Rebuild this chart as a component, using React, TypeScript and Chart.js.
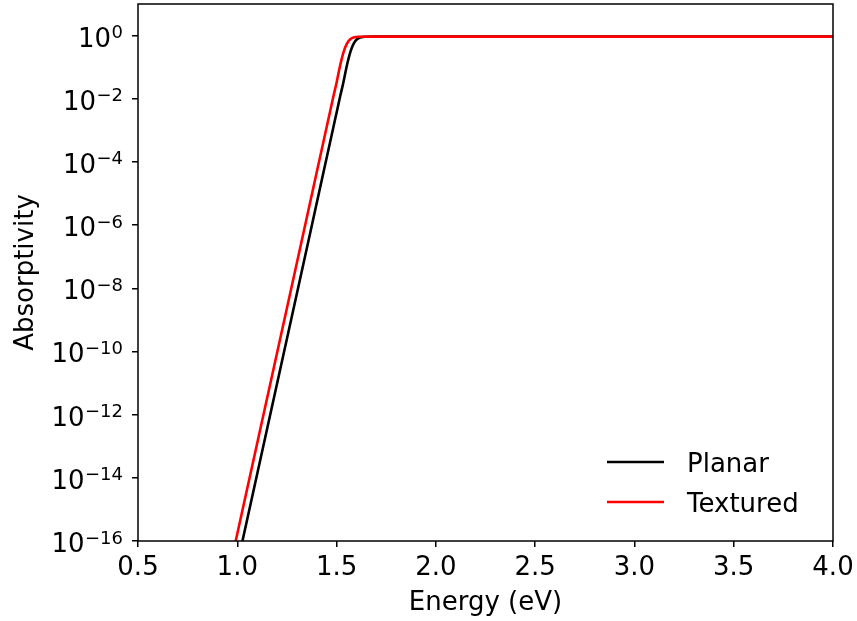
import { useEffect, useRef } from "react";
import { Chart, registerables } from "chart.js";

Chart.register(...registerables);

const FONT_FAMILY = '"DejaVu Sans", sans-serif';
const FONT_SIZE = 26;
const SUP_SIZE = 18;

// Planar cell absorptivity vs photon energy (eV)
const PLANAR_ENERGY = [
  1.014, 1.026, 1.155, 1.306, 1.444, 1.491, 1.519, 1.534, 1.55, 1.57, 1.586,
  1.604, 1.624, 1.644, 1.7, 2.0, 2.5, 3.0, 3.5, 4.0,
];
const PLANAR_ABS = [
  4.6e-17, 1e-16, 4.9e-13, 1.0e-8, 9.1e-5, 2.0e-3, 1.26e-2, 0.032, 0.1, 0.31,
  0.56, 0.776, 0.891, 0.923, 0.93, 0.93, 0.93, 0.93, 0.93, 0.93,
];

// Textured cell absorptivity vs photon energy (eV)
const TEXTURED_ENERGY = [
  0.98, 0.992, 1.121, 1.272, 1.41, 1.457, 1.485, 1.5, 1.516, 1.536, 1.552,
  1.57, 1.59, 1.61, 1.7, 2.0, 2.5, 3.0, 3.5, 4.0,
];
const TEXTURED_ABS = [
  4.6e-17, 1e-16, 4.9e-13, 1.0e-8, 9.1e-5, 2.0e-3, 1.26e-2, 0.032, 0.1, 0.31,
  0.56, 0.776, 0.891, 0.923, 0.93, 0.93, 0.93, 0.93, 0.93, 0.93,
];

const X_TICKS = [0.5, 1.0, 1.5, 2.0, 2.5, 3.0, 3.5, 4.0];
const Y_TICK_EXPONENTS = [-16, -14, -12, -10, -8, -6, -4, -2, 0];

const LEGEND_ITEMS = [
  { label: "Planar", color: "#000000" },
  { label: "Textured", color: "#ff0000" },
];

// Frame, power-of-ten y labels, axis titles and a lower-right legend
const decorations = {
  id: "decorations",
  afterDraw(chart: Chart) {
    const { ctx, chartArea } = chart;
    const { left, right, top, bottom } = chartArea;
    const yScale = chart.scales.y;
    ctx.save();
    ctx.strokeStyle = "#000";
    ctx.lineWidth = 1.5;
    ctx.strokeRect(left, top, right - left, bottom - top);

    ctx.fillStyle = "#000";
    ctx.textBaseline = "alphabetic";

    // y tick labels: "10" with a raised exponent
    const labelRight = left - 15;
    Y_TICK_EXPONENTS.forEach((e) => {
      const y = yScale.getPixelForValue(Math.pow(10, e));
      const expText = String(e).replace("-", "\u2212");
      ctx.font = `${SUP_SIZE}px ${FONT_FAMILY}`;
      ctx.textAlign = "right";
      const expWidth = ctx.measureText(expText).width;
      ctx.fillText(expText, labelRight, y + 2.5);
      ctx.font = `${FONT_SIZE}px ${FONT_FAMILY}`;
      ctx.fillText("10", labelRight - expWidth - 0.5, y + 11);
    });

    ctx.font = `${FONT_SIZE}px ${FONT_FAMILY}`;
    ctx.textAlign = "center";
    ctx.fillText("Energy (eV)", (left + right) / 2, 610);

    ctx.save();
    ctx.translate(33, (top + bottom) / 2);
    ctx.rotate(-Math.PI / 2);
    ctx.fillText("Absorptivity", 0, 0);
    ctx.restore();

    ctx.textAlign = "left";
    LEGEND_ITEMS.forEach((item, i) => {
      const y = 462 + i * 40;
      ctx.strokeStyle = item.color;
      ctx.lineWidth = 2.6;
      ctx.beginPath();
      ctx.moveTo(607, y);
      ctx.lineTo(664, y);
      ctx.stroke();
      ctx.fillStyle = "#000";
      ctx.fillText(item.label, 687, y + 9.5);
    });
    ctx.restore();
  },
};

export default function App() {
  const canvasRef = useRef<HTMLCanvasElement>(null);

  useEffect(() => {
    if (!canvasRef.current) return;
    const tickFont = { family: FONT_FAMILY, size: FONT_SIZE };
    const grid = {
      display: true,
      drawOnChartArea: false,
      drawTicks: true,
      tickLength: 6,
      color: "#000",
      lineWidth: 1.5,
    };
    const chart = new Chart(canvasRef.current, {
      type: "line",
      data: {
        datasets: [
          {
            label: "Textured",
            data: TEXTURED_ENERGY.map((x, i) => ({ x, y: TEXTURED_ABS[i] })),
            borderColor: "#ff0000",
            borderWidth: 2.6,
            pointRadius: 0,
            cubicInterpolationMode: "monotone",
            clip: 0,
            order: 0,
          },
          {
            label: "Planar",
            data: PLANAR_ENERGY.map((x, i) => ({ x, y: PLANAR_ABS[i] })),
            borderColor: "#000000",
            borderWidth: 2.6,
            pointRadius: 0,
            cubicInterpolationMode: "monotone",
            clip: 0,
            order: 1,
          },
        ],
      },
      options: {
        responsive: false,
        animation: false,
        layout: { padding: { top: 4, right: 24, left: 0, bottom: 0 } },
        plugins: {
          legend: { display: false },
          tooltip: { enabled: false },
        },
        scales: {
          x: {
            type: "linear",
            min: 0.5,
            max: 4.0,
            afterBuildTicks: (scale: any) => {
              scale.ticks = X_TICKS.map((value) => ({ value }));
            },
            afterFit: (scale: any) => {
              scale.height = 80;
              scale.paddingLeft = 0;
              scale.paddingRight = 0;
            },
            ticks: {
              callback: (v: any) => Number(v).toFixed(1),
              font: tickFont,
              color: "#000",
              padding: 6,
              maxRotation: 0,
              autoSkip: false,
            },
            grid,
            border: { display: false },
          },
          y: {
            type: "logarithmic",
            min: 1e-16,
            max: 10,
            afterBuildTicks: (scale: any) => {
              scale.ticks = Y_TICK_EXPONENTS.map((e) => ({ value: Math.pow(10, e) }));
            },
            afterFit: (scale: any) => {
              scale.width = 138;
              scale.paddingTop = 0;
              scale.paddingBottom = 0;
            },
            ticks: { display: false },
            grid,
            border: { display: false },
          },
        },
      },
      plugins: [decorations],
    });
    return () => chart.destroy();
  }, []);

  return (
    <div style={{ position: "fixed", left: 0, top: 0, width: 857, height: 621, background: "#fff" }}>
      <canvas ref={canvasRef} width={857} height={621} />
    </div>
  );
}
